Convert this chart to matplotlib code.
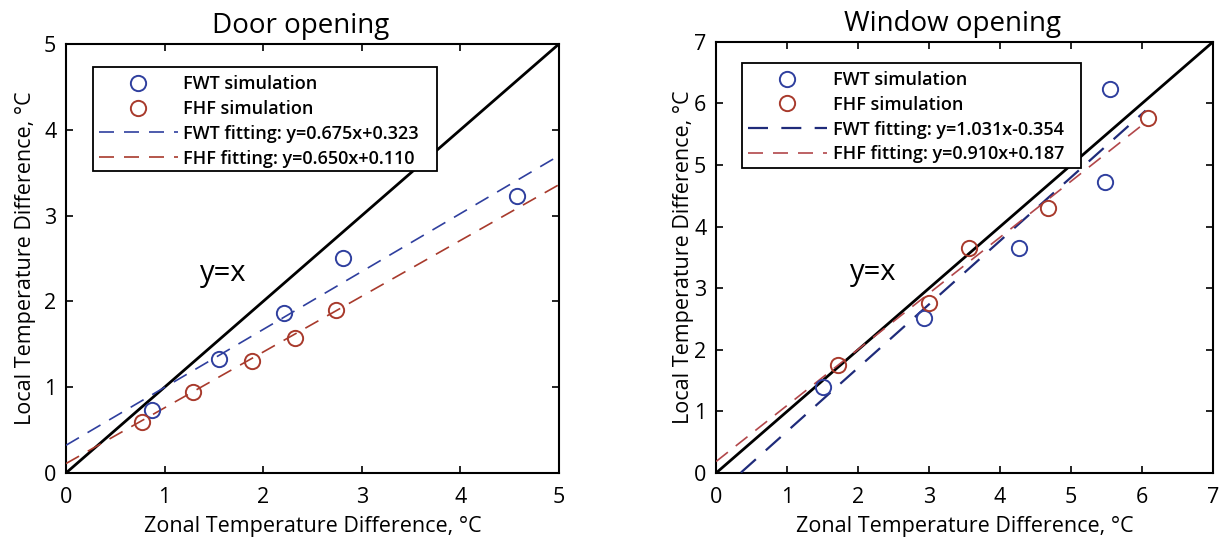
import numpy as np
import matplotlib
matplotlib.use("Agg")
import matplotlib.pyplot as plt
from matplotlib.patches import Rectangle

plt.rcParams['font.family'] = ['Open Sans', 'DejaVu Sans']

# Door opening data
door_fwt_x = [0.87, 1.55, 2.21, 2.81, 4.57]
door_fwt_y = [0.74, 1.33, 1.86, 2.50, 3.23]
door_fhf_x = [0.77, 1.29, 1.89, 2.32, 2.74]
door_fhf_y = [0.59, 0.94, 1.31, 1.57, 1.90]
door_fwt_fit = (0.675, 0.323)
door_fhf_fit = (0.650, 0.110)

# Window opening data
win_fwt_x = [1.51, 2.93, 4.27, 5.48, 5.55]
win_fwt_y = [1.40, 2.52, 3.66, 4.72, 6.23]
win_fhf_x = [1.72, 3.00, 3.56, 4.68, 6.08]
win_fhf_y = [1.76, 2.76, 3.66, 4.31, 5.76]
win_fwt_fit = (1.031, -0.354)
win_fhf_fit = (0.910, 0.187)

BLUE = '#2f3f9e'
RED = '#a83a2c'
NAVY = '#1f2b7a'
RED_LIGHT = '#b2474a'

fig = plt.figure(figsize=(12.22, 5.41), dpi=100)
ax1 = fig.add_axes([0.054, 0.1257, 0.4034, 0.793])
ax2 = fig.add_axes([0.586, 0.1257, 0.4067, 0.797])


def fit_label(name, fit):
    a, b = fit
    sign = '+' if b >= 0 else '-'
    return f"{name} fitting: y={a:.3f}x{sign}{abs(b):.3f}"


def panel(ax, lim, fwt_x, fwt_y, fhf_x, fhf_y, fwt_fit, fhf_fit, fit_end,
          title, yx_pos, fwt_line_color, fhf_line_color, fwt_lw, fhf_lw,
          legend_box, ylabelpad):
    ax.plot([0, lim], [0, lim], color='black', lw=2.0, zorder=2)
    ax.plot(fwt_x, fwt_y, 'o', mfc='none', mec=BLUE, ms=11, mew=1.4,
            label='FWT simulation', zorder=4)
    ax.plot(fhf_x, fhf_y, 'o', mfc='none', mec=RED, ms=11, mew=1.4,
            label='FHF simulation', zorder=4)
    xs = np.array([0.0, fit_end])
    ax.plot(xs, fwt_fit[0] * xs + fwt_fit[1], ls=(0, (9, 6)),
            color=fwt_line_color, lw=fwt_lw, label=fit_label('FWT', fwt_fit), zorder=3)
    ax.plot(xs, fhf_fit[0] * xs + fhf_fit[1], ls=(0, (9, 6)),
            color=fhf_line_color, lw=fhf_lw, label=fit_label('FHF', fhf_fit), zorder=3)
    ax.set_xlim(0, lim)
    ax.set_ylim(0, lim)
    ax.set_xticks(range(lim + 1))
    ax.set_yticks(range(lim + 1))
    ax.tick_params(direction='in', top=True, right=True, length=5, width=1.2,
                   labelsize=15.5)
    ax.tick_params(axis='x', pad=10)
    ax.tick_params(axis='y', pad=7)
    for s in ax.spines.values():
        s.set_linewidth(1.5)
    ax.set_xlabel('Zonal Temperature Difference, °C', fontsize=15.5, labelpad=6)
    ax.set_ylabel('Local Temperature Difference, °C', fontsize=15.5, labelpad=ylabelpad)
    ax.set_title(title, fontsize=20, pad=8, x=0.476)
    ax.text(yx_pos[0], yx_pos[1], 'y=x', fontsize=21, ha='center', va='center',
            fontweight='medium')

    # legend frame drawn as its own box, entries placed inside it
    x0, y0, x1, y1 = legend_box
    ax.add_patch(Rectangle((x0, y0), x1 - x0, y1 - y0, transform=ax.transAxes,
                           fill=True, facecolor='white', edgecolor='black',
                           lw=1.3, zorder=5))
    leg = ax.legend(loc='upper left', bbox_to_anchor=(x0 + 0.004, y1 - 0.010),
                    prop={'size': 13, 'weight': 'semibold'},
                    frameon=False, handlelength=4.4, borderpad=0.2,
                    labelspacing=0.38, handletextpad=0.3, borderaxespad=0)
    leg.set_zorder(6)


panel(ax1, 5, door_fwt_x, door_fwt_y, door_fhf_x, door_fhf_y,
      door_fwt_fit, door_fhf_fit, 5.0, 'Door opening', (1.59, 2.33),
      BLUE, RED, 1.2, 1.2, (0.0548, 0.704, 0.7525, 0.946), 6)
panel(ax2, 7, win_fwt_x, win_fwt_y, win_fhf_x, win_fhf_y,
      win_fwt_fit, win_fhf_fit, 6.05, 'Window opening', (2.21, 3.25),
      NAVY, RED_LIGHT, 1.6, 1.2, (0.0523, 0.708, 0.734, 0.951), 0)

fig.savefig('out.png', dpi=100)
